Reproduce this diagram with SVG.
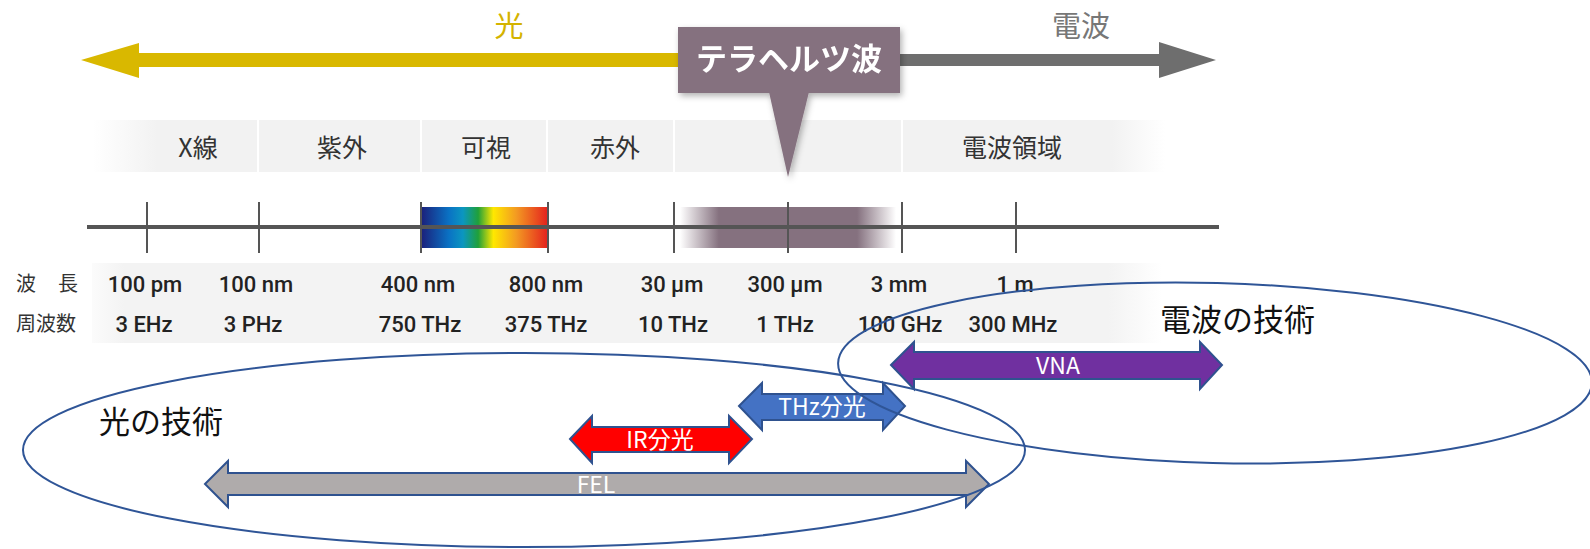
<svg xmlns="http://www.w3.org/2000/svg" width="1590" height="549" viewBox="0 0 1590 549">
<defs>
<style>
.cat{font-family:"Noto Sans CJK JP","Noto Sans",sans-serif;font-size:25px;fill:#333;text-anchor:middle}
.val{font-family:Roboto,"Liberation Sans",sans-serif;font-size:22px;font-weight:500;fill:#222;text-anchor:middle}
.lab{font-family:"Noto Sans CJK JP","Noto Sans",sans-serif;font-size:20px;fill:#333}
.tech{font-family:"Noto Sans CJK JP","Noto Sans",sans-serif;font-size:31px;fill:#111}
.albl{font-family:"Noto Sans CJK JP","Noto Sans",sans-serif;font-size:23px;fill:#fff;text-anchor:middle}
.tick{stroke:#555;stroke-width:2}
.div{stroke:#fff;stroke-width:2}
.dbl{stroke:#2f528f;stroke-width:2;stroke-linejoin:miter}
.ell{fill:none;stroke:#2f5597;stroke-width:2}
</style>
<linearGradient id="bandGrad" x1="0" y1="0" x2="1" y2="0">
<stop offset="0" stop-color="#f2f2f2" stop-opacity="0"/>
<stop offset="0.06" stop-color="#f2f2f2"/>
<stop offset="0.95" stop-color="#f2f2f2"/>
<stop offset="1" stop-color="#f2f2f2" stop-opacity="0"/>
</linearGradient>
<linearGradient id="valGrad" x1="0" y1="0" x2="1" y2="0">
<stop offset="0" stop-color="#f3f3f3" stop-opacity="0.3"/>
<stop offset="0.03" stop-color="#f3f3f3"/>
<stop offset="0.95" stop-color="#f3f3f3"/>
<stop offset="1" stop-color="#f3f3f3" stop-opacity="0"/>
</linearGradient>
<linearGradient id="rainbow" x1="0" y1="0" x2="1" y2="0">
<stop offset="0" stop-color="#1b1f7a"/>
<stop offset="0.22" stop-color="#0a72c4"/>
<stop offset="0.33" stop-color="#0b96c0"/>
<stop offset="0.45" stop-color="#1fa03a"/>
<stop offset="0.57" stop-color="#ffe800"/>
<stop offset="0.75" stop-color="#f39a22"/>
<stop offset="1" stop-color="#e4201e"/>
</linearGradient>
<linearGradient id="thzGrad" x1="0" y1="0" x2="1" y2="0">
<stop offset="0" stop-color="#85717f" stop-opacity="0"/>
<stop offset="0.18" stop-color="#85717f"/>
<stop offset="0.82" stop-color="#85717f"/>
<stop offset="1" stop-color="#85717f" stop-opacity="0"/>
</linearGradient>
<filter id="shadow" x="-10%" y="-10%" width="130%" height="130%">
<feDropShadow dx="2" dy="3" stdDeviation="3" flood-color="#000" flood-opacity="0.3"/>
</filter>
</defs>
<rect width="1590" height="549" fill="#fff"/>

<g id="light-arrow">
<path d="M81,60 L139,43 L139,53 L680,53 L680,67 L139,67 L139,78 Z" fill="#d9b800"/>
<text x="509" y="37" font-family="Noto Sans CJK JP,sans-serif" font-size="29" fill="#d4b300" text-anchor="middle">光</text>
</g>
<g id="radio-arrow">
<path d="M898,54 L1159,54 L1159,42 L1216,60 L1159,78 L1159,66 L898,66 Z" fill="#6e6e6e"/>
<text x="1081" y="37" font-family="Noto Sans CJK JP,sans-serif" font-size="29" fill="#777" text-anchor="middle">電波</text>
</g>

<g id="category-band">
<rect x="93" y="120" width="1072" height="52" fill="url(#bandGrad)"/>
<line class="div" x1="258" y1="120" x2="258" y2="172"/>
<line class="div" x1="421" y1="120" x2="421" y2="172"/>
<line class="div" x1="547" y1="120" x2="547" y2="172"/>
<line class="div" x1="674" y1="120" x2="674" y2="172"/>
<line class="div" x1="902" y1="120" x2="902" y2="172"/>
<text class="cat" x="198" y="157">X線</text>
<text class="cat" x="342" y="157">紫外</text>
<text class="cat" x="486" y="157">可視</text>
<text class="cat" x="615" y="157">赤外</text>
<text class="cat" x="1012" y="157">電波領域</text>
</g>

<g id="thz-callout" filter="url(#shadow)">
<rect x="678" y="27" width="222" height="66" fill="#85717f"/>
<polygon points="769,92 809,92 788,177" fill="#85717f"/>
<text x="789" y="70" font-family="Noto Sans CJK JP,sans-serif" font-size="31" font-weight="bold" fill="#fff" text-anchor="middle">テラヘルツ波</text>
</g>

<g id="axis">
<rect x="421" y="207" width="127" height="41" fill="url(#rainbow)"/>
<rect x="680" y="207" width="216" height="41" fill="url(#thzGrad)"/>
<line x1="87" y1="227" x2="1219" y2="227" stroke="#555" stroke-width="4"/>
<line class="tick" x1="147" y1="202" x2="147" y2="253"/>
<line class="tick" x1="259" y1="202" x2="259" y2="253"/>
<line class="tick" x1="421" y1="202" x2="421" y2="253"/>
<line class="tick" x1="548" y1="202" x2="548" y2="253"/>
<line class="tick" x1="674" y1="202" x2="674" y2="253"/>
<line class="tick" x1="788" y1="202" x2="788" y2="253"/>
<line class="tick" x1="902" y1="202" x2="902" y2="253"/>
<line class="tick" x1="1016" y1="202" x2="1016" y2="253"/>
</g>

<g id="value-table">
<rect x="92" y="263" width="1070" height="80" fill="url(#valGrad)"/>
<text class="lab" x="16" y="291">波</text>
<text class="lab" x="58" y="291">長</text>
<text class="lab" x="16" y="331">周波数</text>
<text class="val" x="145" y="292">100 pm</text>
<text class="val" x="256" y="292">100 nm</text>
<text class="val" x="418" y="292">400 nm</text>
<text class="val" x="546" y="292">800 nm</text>
<text class="val" x="672" y="292">30 µm</text>
<text class="val" x="785" y="292">300 µm</text>
<text class="val" x="899" y="292">3 mm</text>
<text class="val" x="1015" y="292">1 m</text>
<text class="val" x="144" y="332">3 EHz</text>
<text class="val" x="253" y="332">3 PHz</text>
<text class="val" x="420" y="332">750 THz</text>
<text class="val" x="546" y="332">375 THz</text>
<text class="val" x="673" y="332">10 THz</text>
<text class="val" x="785" y="332">1 THz</text>
<text class="val" x="900" y="332">100 GHz</text>
<text class="val" x="1013" y="332">300 MHz</text>
</g>

<g id="connectors">
<g id="vna">
<path class="dbl" fill="#7030a0" d="M891,365 L914,342 L914,352 L1200,352 L1200,342 L1222,365 L1200,389 L1200,379 L914,379 L914,389 Z"/>
<text class="albl" x="1058" y="374" font-size="22">VNA</text>
</g>
<g id="thz-spec">
<path class="dbl" fill="#4472c4" d="M739,406 L762,383 L762,394 L883,394 L883,383 L905,406 L883,430 L883,420 L762,420 L762,430 Z"/>
<text class="albl" x="822" y="415">THz分光</text>
</g>
<g id="ir-spec">
<path class="dbl" fill="#ff0000" d="M570,439 L592,416 L592,427 L729,427 L729,416 L752,439 L729,463 L729,452 L592,452 L592,463 Z"/>
<text class="albl" x="660" y="448">IR分光</text>
</g>
<g id="fel">
<path class="dbl" fill="#afabab" d="M205,484 L228,461 L228,473 L966,473 L966,461 L989,484 L966,507 L966,495 L228,495 L228,507 Z"/>
<text class="albl" x="596" y="493">FEL</text>
</g>
</g>

<g id="light-tech">
<ellipse class="ell" cx="524" cy="450" rx="501" ry="97"/>
<text class="tech" x="99" y="433">光の技術</text>
</g>
<g id="radio-tech">
<ellipse class="ell" cx="1215" cy="373" rx="377" ry="90" transform="rotate(1.5 1215 373)"/>
<text class="tech" x="1160" y="331">電波の技術</text>
</g>
</svg>
